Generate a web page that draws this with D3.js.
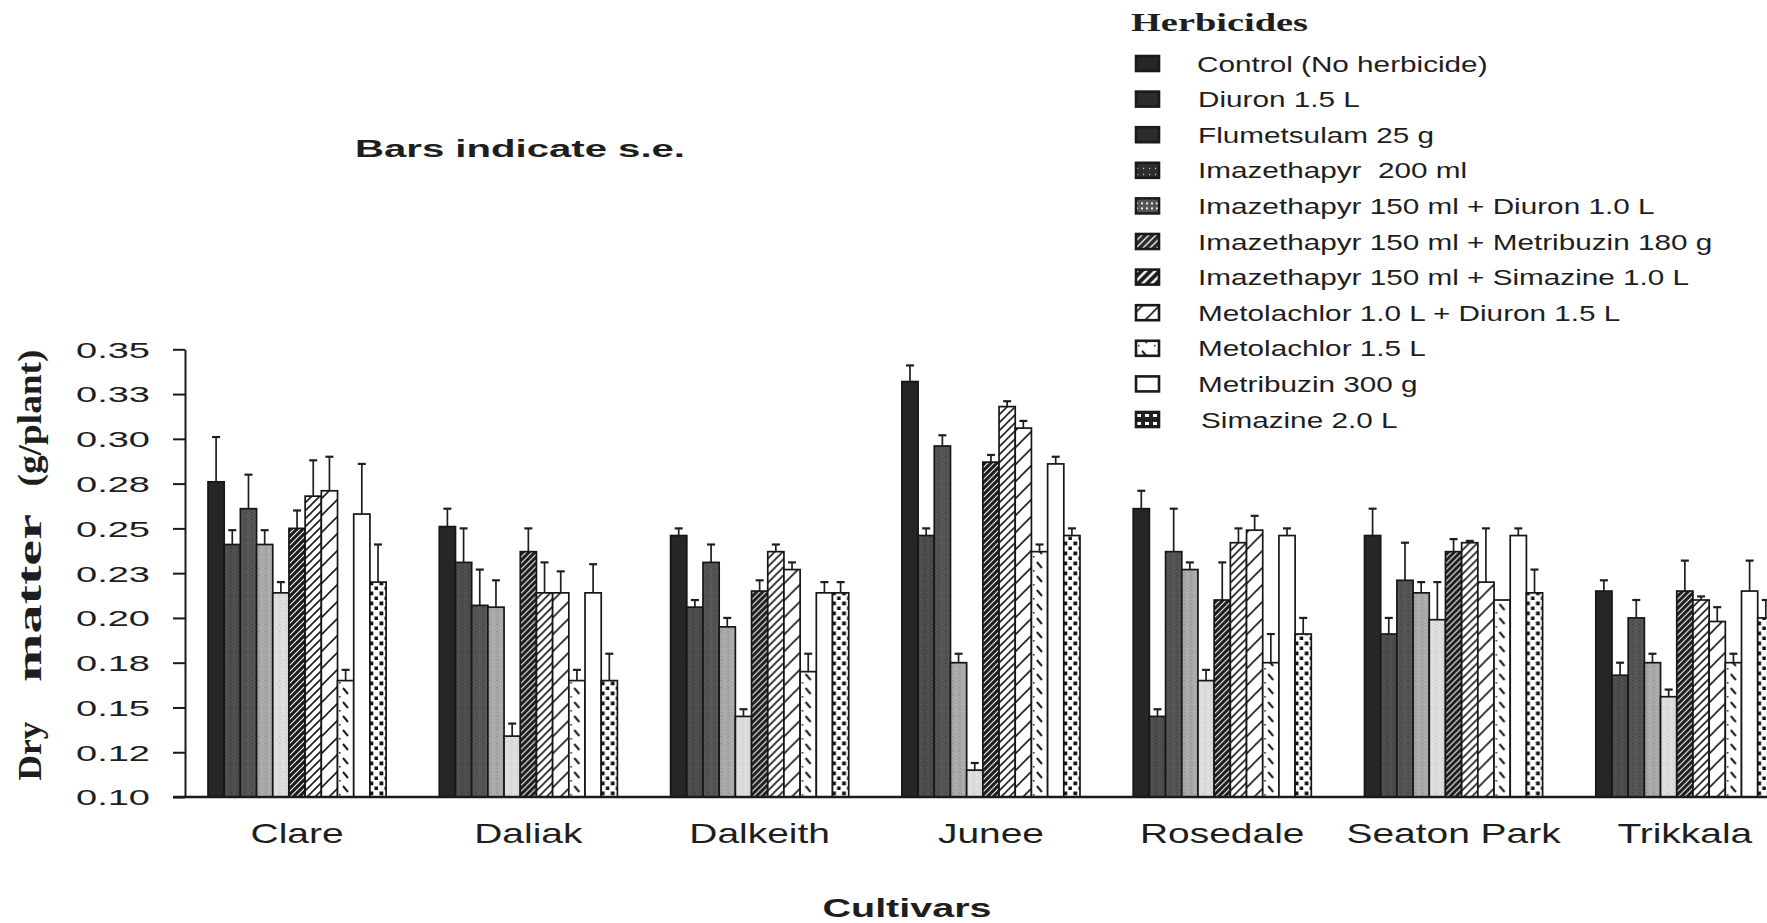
<!DOCTYPE html>
<html><head><meta charset="utf-8">
<script src="https://cdn.jsdelivr.net/npm/d3@7"></script>
<style>
html,body{margin:0;padding:0;background:#fff;}
svg{display:block;background:#fff;}
text{font-family:"Liberation Sans",Arial,Helvetica,sans-serif;fill:#1e1e1e;white-space:pre;}
.serif{font-family:"Liberation Serif","Times New Roman",serif;font-weight:bold;}
</style></head><body>
<svg id="chart" width="1767" height="923"></svg>
<script>
// ---------------- data ----------------
const cultivars = ["Clare","Daliak","Dalkeith","Junee","Rosedale","Seaton Park","Trikkala"];
const herbicides = [
  "Control (No herbicide)",
  "Diuron 1.5 L",
  "Flumetsulam 25 g",
  "Imazethapyr  200 ml",
  "Imazethapyr 150 ml + Diuron 1.0 L",
  "Imazethapyr 150 ml + Metribuzin 180 g",
  "Imazethapyr 150 ml + Simazine 1.0 L",
  "Metolachlor 1.0 L + Diuron 1.5 L",
  "Metolachlor 1.5 L",
  "Metribuzin 300 g",
  "Simazine 2.0 L"
];
const yTickValues = [0.10,0.125,0.15,0.175,0.20,0.225,0.25,0.275,0.30,0.325,0.35];
const yTickLabels = ["0.10","0.12","0.15","0.18","0.20","0.23","0.25","0.28","0.30","0.33","0.35"];

// means per herbicide, in cultivar order
const control        = [0.276,0.251,0.246,0.332,0.261,0.246,0.215];
const diuron         = [0.241,0.231,0.206,0.246,0.145,0.191,0.168];
const flumetsulam    = [0.261,0.207,0.231,0.296,0.237,0.221,0.200];
const imaz200        = [0.241,0.206,0.195,0.175,0.227,0.214,0.175];
const imazDiuron     = [0.214,0.134,0.145,0.115,0.165,0.199,0.156];
const imazMetribuzin = [0.250,0.237,0.215,0.287,0.210,0.237,0.215];
const imazSimazine   = [0.268,0.214,0.237,0.318,0.242,0.242,0.210];
const metolDiuron    = [0.271,0.214,0.227,0.306,0.249,0.220,0.198];
const metol15        = [0.165,0.165,0.170,0.237,0.175,0.210,0.175];
const metribuzin     = [0.258,0.214,0.214,0.286,0.246,0.246,0.215];
const simazine       = [0.220,0.165,0.214,0.246,0.191,0.214,0.200];

// standard errors per herbicide
const controlSE        = [0.025,0.010,0.004,0.009,0.010,0.015,0.006];
const diuronSE         = [0.008,0.019,0.004,0.004,0.004,0.009,0.007];
const flumetsulamSE    = [0.019,0.020,0.010,0.006,0.024,0.021,0.010];
const imaz200SE        = [0.008,0.015,0.005,0.005,0.004,0.006,0.005];
const imazDiuronSE     = [0.006,0.007,0.004,0.004,0.006,0.021,0.004];
const imazMetribuzinSE = [0.010,0.013,0.006,0.004,0.021,0.007,0.017];
const imazSimazineSE   = [0.020,0.017,0.004,0.003,0.008,0.001,0.002];
const metolDiuronSE    = [0.019,0.012,0.004,0.004,0.008,0.030,0.008];
const metol15SE        = [0.006,0.006,0.010,0.004,0.016,0.000,0.005];
const metribuzinSE     = [0.028,0.016,0.006,0.004,0.004,0.004,0.017];
const simazineSE       = [0.021,0.015,0.006,0.004,0.009,0.013,0.010];

const meanSeries = [control,diuron,flumetsulam,imaz200,imazDiuron,imazMetribuzin,imazSimazine,metolDiuron,metol15,metribuzin,simazine];
const seSeries = [controlSE,diuronSE,flumetsulamSE,imaz200SE,imazDiuronSE,imazMetribuzinSE,imazSimazineSE,metolDiuronSE,metol15SE,metribuzinSE,simazineSE];

// ---------------- drawing ----------------
const svg = d3.select("#chart");
const defs = svg.append("defs");

function pat(id, w, h, bg, draw){
  const p = defs.append("pattern").attr("id",id).attr("patternUnits","userSpaceOnUse")
    .attr("width",w).attr("height",h);
  p.append("rect").attr("width",w).attr("height",h).attr("fill",bg);
  draw(p);
}
function diag(id, s, sw, bg, col){
  pat(id, s, s, bg, p => p.append("path")
    .attr("d",`M0,${s} L${s},0 M${-s/2},${s/2} L${s/2},${-s/2} M${s/2},${s*1.5} L${s*1.5},${s/2}`)
    .attr("stroke",col).attr("stroke-width",sw).attr("fill","none"));
}
function noise(id, bg, c1, c2){
  pat(id, 7, 7, bg, p => {
    p.append("rect").attr("x",1).attr("y",1).attr("width",1.4).attr("height",1.4).attr("fill",c1);
    p.append("rect").attr("x",4).attr("y",4).attr("width",1.4).attr("height",1.4).attr("fill",c2);
    p.append("rect").attr("x",5).attr("y",1).attr("width",1).attr("height",1).attr("fill",c2);
    p.append("rect").attr("x",2).attr("y",5).attr("width",1).attr("height",1).attr("fill",c1);
  });
}
noise("pDiuron","#4c4c4c","#3a3a3a","#5e5e5e");
noise("pFlum","#545454","#404040","#666");
noise("pImaz","#a8a8a8","#8f8f8f","#c0c0c0");
noise("pImazDiu","#dcdcdc","#c8c8c8","#ececec");
diag("pImazMet", 6, 3.2, "#fff", "#1c1c1c");
diag("pImazSim", 8, 1.6, "#fff", "#1c1c1c");
diag("pMetolDiu", 17, 1.6, "#fff", "#1c1c1c");
pat("pMetol", 16, 14, "#fff", p => {
  p.append("path").attr("d","M7,2 L12,8").attr("stroke","#1c1c1c").attr("stroke-width",2);
  p.append("rect").attr("x",3).attr("y",10).attr("width",1.6).attr("height",1.6).attr("fill","#333");
});
pat("pSima", 10, 10, "#fff", p => {
  p.append("rect").attr("x",1.5).attr("y",1.5).attr("width",3.8).attr("height",3.8).attr("fill","#141414");
  p.append("rect").attr("x",6.5).attr("y",6.5).attr("width",3.8).attr("height",3.8).attr("fill","#141414");
});
// legend-only swatch textures
pat("lImaz", 6, 6, "#2e2e2e", p => p.append("rect").attr("x",2).attr("y",3).attr("width",1.2).attr("height",1.2).attr("fill","#ddd"));
pat("lImazDiu", 5, 5, "#555", p => p.append("rect").attr("x",1).attr("y",1).attr("width",2).attr("height",2).attr("fill","#eee"));
diag("lImazMet", 7, 1.4, "#2e2e2e", "#e8e8e8");
diag("lImazSim", 9, 4, "#fff", "#1c1c1c");
pat("lSima", 8, 8, "#222", p => p.append("rect").attr("x",2).attr("y",2).attr("width",4).attr("height",3).attr("fill","#fff"));

const fills = ["#262626","url(#pDiuron)","url(#pFlum)","url(#pImaz)","url(#pImazDiu)",
  "url(#pImazMet)","url(#pImazSim)","url(#pMetolDiu)","url(#pMetol)","#fff","url(#pSima)"];
const legendFills = ["#262626","#2b2b2b","#2b2b2b","url(#lImaz)","url(#lImazDiu)",
  "url(#lImazMet)","url(#lImazSim)","url(#pMetolDiu)","url(#pMetol)","#fff","url(#lSima)"];

const y = d3.scaleLinear().domain([0.10,0.35]).range([797,349.3]);
const pin = 0.23;
const x0 = d3.scaleBand().domain(cultivars)
  .range([208, 208 + 231.3*(cultivars.length - pin)]).paddingInner(pin).paddingOuter(0);
const x1 = d3.scaleBand().domain(d3.range(herbicides.length)).range([0, x0.bandwidth()]).padding(0);

function stretch(sel, f){
  sel.each(function(){
    const L = this.getComputedTextLength();
    d3.select(this).attr("textLength", L*f).attr("lengthAdjust","spacingAndGlyphs");
  });
}
function fitTo(sel, w){
  sel.attr("textLength", w).attr("lengthAdjust","spacingAndGlyphs");
}

// bars
const groups = svg.append("g").selectAll("g").data(cultivars).join("g")
  .attr("transform", d => `translate(${x0(d)},0)`);
groups.each(function(c, ci){
  const g = d3.select(this);
  const rows = herbicides.map((h,hi)=>({hi, v: meanSeries[hi][ci], se: seSeries[hi][ci]}));
  g.selectAll("rect").data(rows).join("rect")
    .attr("x", d => x1(d.hi)).attr("width", x1.bandwidth())
    .attr("y", d => y(d.v)).attr("height", d => y(0.10) - y(d.v))
    .attr("fill", d => fills[d.hi]).attr("stroke","#161616").attr("stroke-width",1.7);
  const eb = g.selectAll("g.eb").data(rows.filter(d=>d.se>0)).join("g").attr("class","eb")
    .attr("stroke","#1e1e1e").attr("stroke-width",1.7);
  eb.append("line").attr("x1", d => x1(d.hi)+x1.bandwidth()/2).attr("x2", d => x1(d.hi)+x1.bandwidth()/2)
    .attr("y1", d => y(d.v)).attr("y2", d => y(d.v+d.se));
  eb.append("line").attr("x1", d => x1(d.hi)+x1.bandwidth()/2-4).attr("x2", d => x1(d.hi)+x1.bandwidth()/2+4)
    .attr("y1", d => y(d.v+d.se)).attr("y2", d => y(d.v+d.se)).attr("stroke-width",2.2);
});

// y axis
const yAxis = svg.append("g").attr("transform","translate(185,0)")
  .call(d3.axisLeft(y).tickValues(yTickValues).tickFormat((d,i)=>yTickLabels[i])
        .tickSize(12).tickSizeOuter(0).tickPadding(23));
yAxis.select(".domain").attr("stroke","#1a1a1a").attr("stroke-width",2);
yAxis.selectAll(".tick line").attr("stroke","#1a1a1a").attr("stroke-width",2);
yAxis.selectAll(".tick text").style("font-size","22px").attr("fill","#1e1e1e").attr("dy","0.36em");
fitTo(yAxis.selectAll(".tick text"), 74);

// x baseline
svg.append("line").attr("x1",173).attr("x2",1767).attr("y1",y(0.10)).attr("y2",y(0.10))
  .attr("stroke","#1a1a1a").attr("stroke-width",2.4);

// x labels
const xl = svg.append("g").selectAll("text").data(cultivars).join("text")
  .attr("x", d => x0(d)+x0.bandwidth()/2).attr("y",843)
  .attr("text-anchor","middle").style("font-size","28px").text(d=>d);
stretch(xl, 1.39);

// axis titles
const xt = svg.append("text").attr("x",907).attr("y",917).attr("text-anchor","middle")
  .style("font-size","25px").style("font-weight","bold").text("Cultivars");
fitTo(xt, 169);

const yTitleWords = [["Dry",751,59],["matter",598,168],["(g/plant)",418,137]];
svg.append("g").selectAll("text").data(yTitleWords).join("text")
  .attr("class","serif").attr("text-anchor","middle")
  .attr("transform", d => `translate(41,${d[1]}) rotate(-90)`)
  .style("font-size","34px").attr("textLength", d=>d[2]).attr("lengthAdjust","spacingAndGlyphs")
  .text(d=>d[0]);

const note = svg.append("text").attr("x",355).attr("y",157).style("font-size","23px")
  .style("font-weight","bold").text("Bars indicate s.e.");
fitTo(note, 330);

// legend
const lg = svg.append("g").attr("transform","translate(1135,0)");
const ht = lg.append("text").attr("class","serif").attr("x",-4).attr("y",31).style("font-size","25px").text("Herbicides");
fitTo(ht, 177);
const items = lg.selectAll("g.it").data(herbicides).join("g").attr("class","it")
  .attr("transform",(d,i)=>`translate(0,${64 + i*35.6})`);
items.append("rect").attr("x",1).attr("y",-8).attr("width",23).attr("height",15)
  .attr("fill",(d,i)=>legendFills[i]).attr("stroke","#1a1a1a").attr("stroke-width",2.6);
const lt = items.append("text").attr("x",(d,i)=> i===0?62:(i===10?66:63)).attr("y",7.5)
  .style("font-size","22px").text(d=>d);
stretch(lt, 1.35);
</script>
</body></html>
